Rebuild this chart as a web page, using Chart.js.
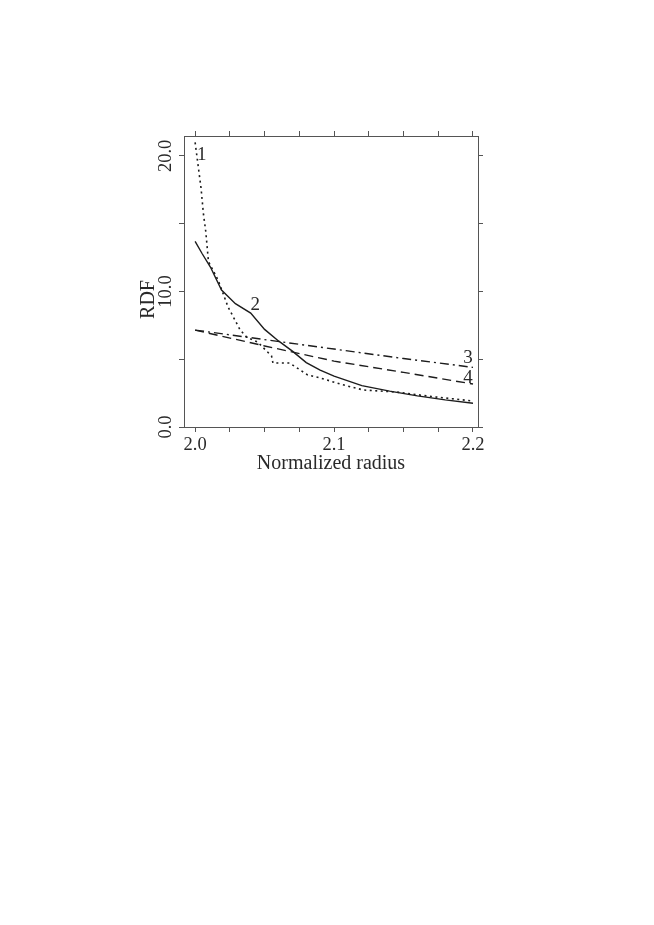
<!DOCTYPE html>
<html>
<head>
<meta charset="utf-8">
<script src="https://cdn.jsdelivr.net/npm/chart.js@4.4.1/dist/chart.umd.min.js"></script>
<style>
  html, body { margin:0; padding:0; background:#fff; }
  #wrap { width:654px; height:925px; position:relative; }
</style>
</head>
<body>
<div id="wrap"><canvas id="rdf"></canvas></div>
<script>
/* RDF vs normalized radius, four curves (1 dotted, 2 solid, 3 dash-dot, 4 dashed) */

// --- data ---
var curve1X = [2.000, 2.0024, 2.0043, 2.006, 2.0077, 2.0096, 2.0165, 2.0237, 2.0324, 2.037, 2.045, 2.055, 2.056, 2.068, 2.081, 2.090, 2.105, 2.121, 2.145, 2.170, 2.200];
var curve1Y = [21.0, 19.1, 17.6, 15.7, 14.4, 12.2, 10.85, 8.86, 7.16, 6.64, 6.27, 5.24, 4.72, 4.72, 3.84, 3.62, 3.15, 2.73, 2.58, 2.25, 1.92];

var curve2X = [2.000, 2.005, 2.011, 2.019, 2.029, 2.040, 2.050, 2.060, 2.070, 2.080, 2.090, 2.100, 2.120, 2.140, 2.160, 2.180, 2.200];
var curve2Y = [13.7, 12.8, 11.8, 10.1, 9.1, 8.4, 7.2, 6.35, 5.6, 4.75, 4.2, 3.75, 3.05, 2.65, 2.3, 2.0, 1.75];

var curve3X = [2.00, 2.05, 2.10, 2.15, 2.20];
var curve3Y = [7.15, 6.45, 5.75, 5.05, 4.4];

var curve4X = [2.00, 2.05, 2.10, 2.15, 2.20];
var curve4Y = [7.15, 5.98, 4.86, 4.03, 3.17];

var xTickValues = [2.0, 2.025, 2.05, 2.075, 2.1, 2.125, 2.15, 2.175, 2.2];
var xTickLabels = [2.0, 2.1, 2.2];
var yTickValues = [0, 5, 10, 15, 20];
var yTickLabels = [0, 10, 20];

var curveNames = ['1', '2', '3', '4'];
var curveNameAt = [[2.0048, 20.07], [2.0432, 9.0], [2.1964, 5.09], [2.1964, 3.6]];

// --- helpers ---
var INK = '#1c1c1c';
var AXIS = '#555';
var SERIF = '"Liberation Serif", "Times New Roman", serif';

function pts(xs, ys){ return xs.map(function(x,i){ return {x:x, y:ys[i]}; }); }
function fixTicks(vals){ return function(s){ s.ticks = vals.map(function(v){ return {value:v}; }); }; }
function fixSize(prop, n){ return function(s){ s[prop] = n; }; }

function axis(pos, vals, min, max, sizeProp, size){
  return {
    type:'linear', position:pos, min:min, max:max,
    afterBuildTicks:fixTicks(vals),
    afterFit:fixSize(sizeProp, size),
    ticks:{ display:false },
    grid:{ display:true, drawOnChartArea:false, drawTicks:true, tickLength:5, tickColor:AXIS, tickWidth:1 },
    border:{ display:true, color:AXIS, width:1 }
  };
}

var textPlugin = {
  id:'rdfText',
  afterDraw:function(chart){
    var c = chart.ctx, xs = chart.scales.x, ys = chart.scales.y, a = chart.chartArea;
    c.save();
    c.fillStyle = '#2a2a2a';
    c.textAlign = 'center'; c.textBaseline = 'middle';

    c.font = '18.5px ' + SERIF;
    xTickLabels.forEach(function(v){ c.fillText(v.toFixed(1), xs.getPixelForValue(v), a.bottom + 18); });
    yTickLabels.forEach(function(v){
      c.save(); c.translate(a.left - 18, ys.getPixelForValue(v)); c.rotate(-Math.PI/2);
      c.fillText(v.toFixed(1), 0, 0); c.restore();
    });

    c.font = '20px ' + SERIF;
    c.fillText('Normalized radius', (a.left + a.right)/2, a.bottom + 37);
    c.save(); c.translate(a.left - 35, (a.top + a.bottom)/2 + 18); c.rotate(-Math.PI/2);
    c.fillText('RDF', 0, 0); c.restore();

    c.font = '19px ' + SERIF;
    curveNames.forEach(function(n,i){
      c.fillText(n, xs.getPixelForValue(curveNameAt[i][0]), ys.getPixelForValue(curveNameAt[i][1]));
    });
    c.restore();
  }
};

function ds(xs, ys, dash, w){
  return { data:pts(xs, ys), borderColor:INK, borderWidth:w, borderDash:dash,
    pointRadius:0, tension:0, fill:false, showLine:true };
}

new Chart(document.getElementById('rdf').getContext('2d'), {
  type:'line',
  data:{ datasets:[
    ds(curve1X, curve1Y, [2, 3.5], 1.6),
    ds(curve2X, curve2Y, [], 1.4),
    ds(curve3X, curve3Y, [9, 4, 2, 4], 1.4),
    ds(curve4X, curve4Y, [9, 5], 1.4)
  ]},
  options:{
    responsive:true, maintainAspectRatio:false, animation:false,
    layout:{ padding:0 },
    plugins:{ legend:{display:false}, tooltip:{enabled:false} },
    scales:{
      x:  axis('bottom', xTickValues, 1.992, 2.2036, 'height', 498),
      x2: axis('top',    xTickValues, 1.992, 2.2036, 'height', 136),
      y:  axis('left',   yTickValues, 0, 21.47, 'width', 184),
      y2: axis('right',  yTickValues, 0, 21.47, 'width', 176)
    }
  },
  plugins:[textPlugin]
});
</script>
</body>
</html>
